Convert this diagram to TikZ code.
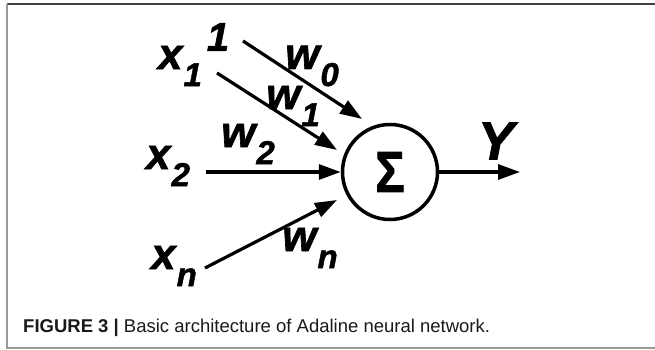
\documentclass[tikz,border=0pt]{standalone}
\usepackage{fontspec}
\setmainfont{Liberation Sans}
\newfontfamily\heavyfont{Liberation Sans}[BoldItalicFeatures={FakeBold=1.5}, BoldFeatures={FakeBold=1.5}]
\usetikzlibrary{arrows.meta}

% label with lowered subscript
\newcommand{\wsub}[2]{#1\kern1pt\raisebox{-17pt}{\fontsize{33}{33}\selectfont #2}}

\begin{document}
\begin{tikzpicture}[x=1pt, y=-1pt, >={Triangle[length=22pt, width=15pt]},
    lbl/.style={inner sep=0pt, font=\heavyfont\fontsize{44}{44}\selectfont\bfseries\itshape},
    wire/.style={->, line width=3.2pt}]
    \useasboundingbox (0,0) rectangle (655,350);
    % Frame
    \draw[line width=1.5pt, black!75] (7,4) -- (655,4);
    \draw[line width=1.5pt, black!40] (7,4) -- (7,348) -- (655,348);
    % Inputs
    \node[lbl, font=\heavyfont\fontsize{40}{40}\selectfont\bfseries\itshape] (one) at (218,37) {1};
    \node[lbl] (x1) at (180,66) {\wsub{x}{1}};
    \node[lbl] (x2) at (168,166) {\wsub{x}{2}};
    \node[lbl] (xn) at (174,266) {\wsub{x}{n}};
    % Summing unit
    \node[circle, draw, line width=3.5pt, minimum size=95pt, inner sep=0pt,
        font=\heavyfont\fontsize{58}{58}\selectfont\bfseries] (sum) at (390,172) {\scalebox{0.85}[1]{Σ}};
    % Weights
    \node[lbl] (w0) at (312,66) {\wsub{w}{0}};
    \node[lbl] (w1) at (293,106) {\wsub{w}{1}};
    \node[lbl] (w2) at (248,144) {\wsub{w}{2}};
    \node[lbl] (wn) at (310,248) {\wsub{w}{n}};
    % Connections
    \coordinate (s0) at (243,41);  \coordinate (t0) at (362,119);
    \coordinate (s1) at (217,73);  \coordinate (t1) at (337,150);
    \coordinate (s2) at (206,172);
    \coordinate (sn) at (205,268); \coordinate (tn) at (337,200);
    \coordinate (yout) at (520,172);
    \draw[wire] (s0) -- (t0);
    \draw[wire] (s1) -- (t1);
    \draw[wire] (s2) -- (sum.west);
    \draw[wire] (sn) -- (tn);
    \draw[wire] (sum.east) -- (yout);
    \node[lbl, font=\heavyfont\fontsize{54}{54}\selectfont\bfseries\itshape] (y) at (496,141) {Y};
    % Caption
    \node[anchor=base west, inner sep=0pt, text=black!90, font=\fontsize{18.5}{18.5}\selectfont]
        (caption) at (23,332) {\textbf{FIGURE 3 |} Basic architecture of Adaline neural network.};
\end{tikzpicture}
\end{document}
